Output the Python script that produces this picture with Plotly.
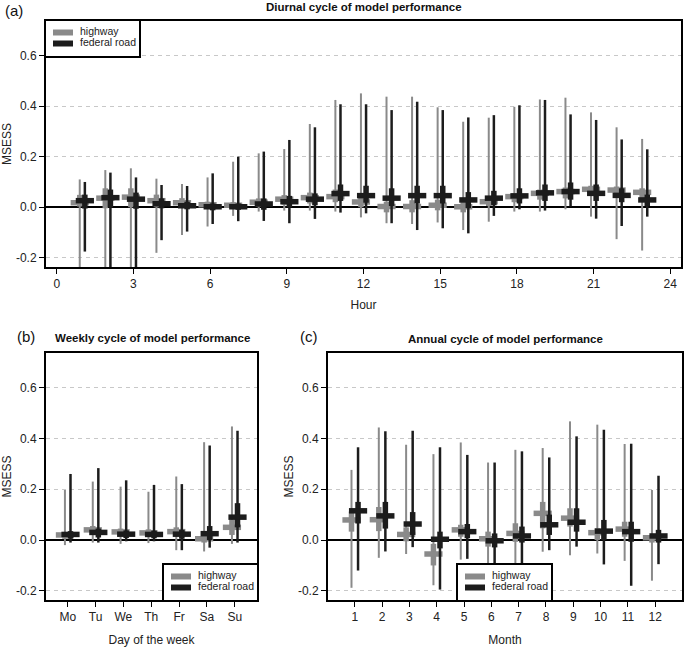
import plotly.graph_objects as go

# ---------------- data ----------------
# (a) diurnal cycle, hours 1..23
hours = list(range(1, 24))
hw_hour_med = [0.018, 0.036, 0.040, 0.026, 0.018, 0.010, 0.008, 0.020, 0.032, 0.038, 0.042, 0.021,
               0.003, 0.003, 0.008, 0.002, 0.022, 0.042, 0.055, 0.062, 0.071, 0.068, 0.059]
hw_hour_q1 = [0.003, -0.004, 0.000, 0.000, 0.000, -0.003, -0.005, 0.002, 0.010, 0.015, 0.020, 0.000,
              -0.020, -0.020, -0.012, -0.020, 0.005, 0.020, 0.030, 0.035, 0.050, 0.045, 0.035]
hw_hour_q3 = [0.049, 0.075, 0.075, 0.050, 0.036, 0.022, 0.020, 0.035, 0.048, 0.058, 0.070, 0.038,
              0.022, 0.028, 0.030, 0.022, 0.035, 0.055, 0.070, 0.078, 0.085, 0.082, 0.075]
hw_hour_lo = [-0.30, -0.30, -0.30, -0.180, -0.110, -0.076, -0.034, -0.017, -0.013, -0.013, -0.017, -0.040,
              -0.063, -0.066, -0.060, -0.090, -0.057, -0.017, -0.017, -0.008, -0.037, -0.126, -0.171]
hw_hour_hi = [0.110, 0.147, 0.154, 0.113, 0.092, 0.118, 0.180, 0.213, 0.230, 0.329, 0.424, 0.450,
              0.437, 0.437, 0.395, 0.338, 0.354, 0.397, 0.426, 0.433, 0.375, 0.316, 0.270]

fr_hour_med = [0.026, 0.038, 0.032, 0.014, 0.006, 0.002, 0.002, 0.013, 0.022, 0.032, 0.054, 0.046,
               0.036, 0.046, 0.046, 0.029, 0.036, 0.045, 0.057, 0.062, 0.055, 0.047, 0.029]
fr_hour_q1 = [-0.005, 0.000, -0.006, -0.004, -0.008, -0.012, -0.010, -0.010, 0.000, 0.008, 0.025, 0.018,
              0.005, 0.015, 0.015, -0.003, 0.008, 0.015, 0.025, 0.030, 0.025, 0.020, 0.005]
fr_hour_q3 = [0.050, 0.070, 0.058, 0.035, 0.022, 0.015, 0.015, 0.035, 0.045, 0.055, 0.090, 0.085,
              0.075, 0.085, 0.085, 0.060, 0.065, 0.075, 0.090, 0.098, 0.090, 0.075, 0.050]
fr_hour_lo = [-0.175, -0.30, -0.30, -0.130, -0.096, -0.066, -0.055, -0.054, -0.063, -0.046, -0.021, -0.024,
              -0.063, -0.090, -0.083, -0.103, -0.034, -0.008, -0.013, 0.003, -0.045, -0.074, -0.037]
fr_hour_hi = [0.100, 0.137, 0.118, 0.088, 0.084, 0.134, 0.200, 0.220, 0.266, 0.316, 0.407, 0.407,
              0.384, 0.417, 0.384, 0.355, 0.364, 0.403, 0.424, 0.367, 0.345, 0.268, 0.229]

# (b) weekly cycle
days = [1, 2, 3, 4, 5, 6, 7]
day_labels = ["Mo", "Tu", "We", "Th", "Fr", "Sa", "Su"]
hw_day_med = [0.020, 0.040, 0.032, 0.028, 0.033, 0.005, 0.050]
hw_day_q1 = [0.005, 0.020, 0.015, 0.012, 0.015, -0.010, 0.020]
hw_day_q3 = [0.030, 0.055, 0.045, 0.042, 0.050, 0.020, 0.080]
hw_day_lo = [-0.020, -0.010, -0.015, -0.012, -0.040, -0.045, -0.015]
hw_day_hi = [0.197, 0.230, 0.210, 0.190, 0.250, 0.385, 0.447]

fr_day_med = [0.022, 0.030, 0.023, 0.022, 0.023, 0.025, 0.090]
fr_day_q1 = [0.005, 0.010, 0.008, 0.007, 0.005, 0.000, 0.050]
fr_day_q3 = [0.035, 0.045, 0.038, 0.037, 0.040, 0.055, 0.145]
fr_day_lo = [-0.010, -0.010, -0.005, -0.005, -0.040, -0.030, -0.010]
fr_day_hi = [0.260, 0.283, 0.235, 0.217, 0.220, 0.372, 0.430]

# (c) annual cycle
months = list(range(1, 13))
month_labels = [str(m) for m in months]
hw_mon_med = [0.079, 0.080, 0.022, -0.055, 0.040, 0.005, 0.026, 0.105, 0.086, 0.029, 0.043, 0.009]
hw_mon_q1 = [0.033, 0.035, -0.005, -0.100, 0.013, -0.026, -0.007, 0.046, 0.053, 0.000, 0.013, -0.010]
hw_mon_q3 = [0.112, 0.130, 0.050, -0.015, 0.060, 0.033, 0.066, 0.150, 0.125, 0.046, 0.072, 0.020]
hw_mon_lo = [-0.188, -0.070, -0.055, -0.178, -0.077, -0.200, -0.170, -0.046, -0.060, -0.053, -0.082, -0.160]
hw_mon_hi = [0.276, 0.443, 0.375, 0.338, 0.384, 0.305, 0.355, 0.362, 0.467, 0.454, 0.378, 0.197]

fr_mon_med = [0.115, 0.095, 0.063, 0.003, 0.033, -0.003, 0.016, 0.060, 0.070, 0.035, 0.033, 0.016]
fr_mon_q1 = [0.065, 0.045, 0.020, -0.033, 0.007, -0.029, -0.010, 0.020, 0.033, 0.000, -0.007, -0.010]
fr_mon_q3 = [0.150, 0.150, 0.110, 0.033, 0.063, 0.026, 0.053, 0.100, 0.125, 0.079, 0.072, 0.040]
fr_mon_lo = [-0.120, -0.045, -0.028, -0.195, -0.074, -0.260, -0.150, -0.040, -0.026, -0.096, -0.180, -0.095]
fr_mon_hi = [0.365, 0.428, 0.430, 0.365, 0.335, 0.305, 0.349, 0.325, 0.408, 0.434, 0.379, 0.253]

series_names = ["highway", "federal road"]
ytick_vals = [-0.2, 0.0, 0.2, 0.4, 0.6]
ytick_text = ["-0.2", "0.0", "0.2", "0.4", "0.6"]
hour_ticks = [0, 3, 6, 9, 12, 15, 18, 21, 24]

# ---------------- style / layout helpers ----------------
GRAY = "#8a8a8a"
BLACK = "#1c1c1c"
FONT = "Liberation Sans, Arial, Helvetica, sans-serif"
W, H = 685, 647


def px(v):
    return v / W


def py(v):
    return 1 - v / H


fig = go.Figure()


def segs(xs, lo, hi):
    X, Y = [], []
    for x, a, b in zip(xs, lo, hi):
        X += [x, x, None]
        Y += [a, b, None]
    return X, Y


def add_series(xs, med, q1, q3, lo, hi, off, color, thin, xa, ya):
    xo = [x + off for x in xs]
    X, Y = segs(xo, lo, hi)
    fig.add_trace(go.Scatter(x=X, y=Y, mode="lines", line=dict(color=color, width=thin),
                             xaxis=xa, yaxis=ya, hoverinfo="skip"))
    X, Y = segs(xo, q1, q3)
    fig.add_trace(go.Scatter(x=X, y=Y, mode="lines", line=dict(color=color, width=5.5),
                             xaxis=xa, yaxis=ya, hoverinfo="skip"))
    fig.add_trace(go.Scatter(x=xo, y=med, mode="markers",
                             marker=dict(symbol="line-ew", size=13,
                                         line=dict(color=color, width=5.5)),
                             xaxis=xa, yaxis=ya, hoverinfo="skip"))


add_series(hours, hw_hour_med, hw_hour_q1, hw_hour_q3, hw_hour_lo, hw_hour_hi, -0.1, GRAY, 2, "x", "y")
add_series(hours, fr_hour_med, fr_hour_q1, fr_hour_q3, fr_hour_lo, fr_hour_hi, 0.1, BLACK, 2.5, "x", "y")
add_series(days, hw_day_med, hw_day_q1, hw_day_q3, hw_day_lo, hw_day_hi, -0.1, GRAY, 2, "x2", "y2")
add_series(days, fr_day_med, fr_day_q1, fr_day_q3, fr_day_lo, fr_day_hi, 0.1, BLACK, 2.5, "x2", "y2")
add_series(months, hw_mon_med, hw_mon_q1, hw_mon_q3, hw_mon_lo, hw_mon_hi, -0.12, GRAY, 2, "x3", "y3")
add_series(months, fr_mon_med, fr_mon_q1, fr_mon_q3, fr_mon_lo, fr_mon_hi, 0.12, BLACK, 2.5, "x3", "y3")

# legend boxes drawn as small inset subplots (box in pixel units, y downward)
LEG_W, LEG_H = 93, 35
leg_rows = [11.5, 22.5]
leg_colors = [GRAY, BLACK]


def add_legend(xa, ya):
    for name, col, yy in zip(series_names, leg_colors, leg_rows):
        fig.add_trace(go.Scatter(x=[7, 27], y=[yy, yy], mode="lines",
                                 line=dict(color=col, width=6),
                                 xaxis=xa, yaxis=ya, hoverinfo="skip"))
        fig.add_trace(go.Scatter(x=[34], y=[yy], mode="text", text=[name],
                                 textposition="middle right",
                                 textfont=dict(family=FONT, size=10.5, color="#222"),
                                 xaxis=xa, yaxis=ya, hoverinfo="skip", cliponaxis=False))


add_legend("x4", "y4")
add_legend("x5", "y5")
add_legend("x6", "y6")

tickfont = dict(family=FONT, size=12, color="#222")
titlefont = dict(family=FONT, size=12, color="#222")

common_x = dict(showline=True, mirror=True, linecolor="black", linewidth=2,
                ticks="outside", ticklen=5, tickwidth=1.2, tickcolor="black",
                showgrid=False, zeroline=False, tickfont=tickfont)
common_y = dict(showline=True, mirror=True, linecolor="black", linewidth=2,
                ticks="outside", ticklen=5, tickwidth=1.2, tickcolor="black",
                range=[-0.236, 0.736], tickvals=ytick_vals, ticktext=ytick_text,
                showgrid=True, gridcolor="#c8c8c8", gridwidth=1.2, griddash="4px,4px",
                zeroline=True, zerolinecolor="black", zerolinewidth=1.5,
                tickfont=tickfont)
leg_x = dict(showline=True, mirror=True, linecolor="black", linewidth=2, ticks="",
             showticklabels=False, showgrid=False, zeroline=False, range=[0, LEG_W],
             fixedrange=True)
leg_y = dict(showline=True, mirror=True, linecolor="black", linewidth=2, ticks="",
             showticklabels=False, showgrid=False, zeroline=False, range=[LEG_H, 0],
             fixedrange=True)

fig.update_layout(
    width=W, height=H,
    margin=dict(l=0, r=0, t=0, b=0),
    paper_bgcolor="white", plot_bgcolor="white",
    showlegend=False,
    font=dict(family=FONT, color="#222"),
    xaxis=dict(common_x, domain=[px(46), px(681)], range=[-0.42, 24.42],
               tickvals=hour_ticks, anchor="y",
               title=dict(text="Hour", font=titlefont, standoff=10)),
    yaxis=dict(common_y, domain=[py(267), py(21)], anchor="x",
               title=dict(text="MSESS", font=titlefont, standoff=2)),
    xaxis2=dict(common_x, domain=[px(46), px(257)], range=[0.22, 7.8],
                tickvals=days, ticktext=day_labels, anchor="y2",
                title=dict(text="Day of the week", font=titlefont, standoff=13)),
    yaxis2=dict(common_y, domain=[py(600), py(353)], anchor="x2",
                title=dict(text="MSESS", font=titlefont, standoff=2)),
    xaxis3=dict(common_x, domain=[px(328), px(682)], range=[0.02, 12.98],
                tickvals=months, ticktext=month_labels, anchor="y3",
                title=dict(text="Month", font=titlefont, standoff=13)),
    yaxis3=dict(common_y, domain=[py(600), py(353)], anchor="x3",
                title=dict(text="MSESS", font=titlefont, standoff=2)),
    xaxis4=dict(leg_x, domain=[px(46), px(46 + LEG_W)], anchor="y4"),
    yaxis4=dict(leg_y, domain=[py(21 + LEG_H), py(21)], anchor="x4"),
    xaxis5=dict(leg_x, domain=[px(257 - LEG_W), px(257)], anchor="y5"),
    yaxis5=dict(leg_y, domain=[py(600), py(600 - LEG_H)], anchor="x5"),
    xaxis6=dict(leg_x, domain=[px(458), px(458 + LEG_W)], anchor="y6"),
    yaxis6=dict(leg_y, domain=[py(600), py(600 - LEG_H)], anchor="x6"),
)

annots = [
    dict(text="<b>Diurnal cycle of model performance</b>", x=px(363.5), y=py(7), size=11.5),
    dict(text="<b>Weekly cycle of model performance</b>", x=px(152), y=py(338), size=11.5),
    dict(text="<b>Annual cycle of model performance</b>", x=px(505), y=py(339), size=11.5),
    dict(text="(a)", x=px(14), y=py(10), size=15),
    dict(text="(b)", x=px(26), y=py(337), size=15),
    dict(text="(c)", x=px(309), y=py(337), size=15),
]
for a in annots:
    fig.add_annotation(text=a["text"], x=a["x"], y=a["y"], xref="paper", yref="paper",
                       xanchor="center", yanchor="middle", showarrow=False,
                       font=dict(family=FONT, size=a["size"], color="#111"))

# the page's default 8px body margin would shift the figure; remove it
fig.write_html("out.html", config={"displayModeBar": False},
               post_script="document.body.style.margin='0px';")
